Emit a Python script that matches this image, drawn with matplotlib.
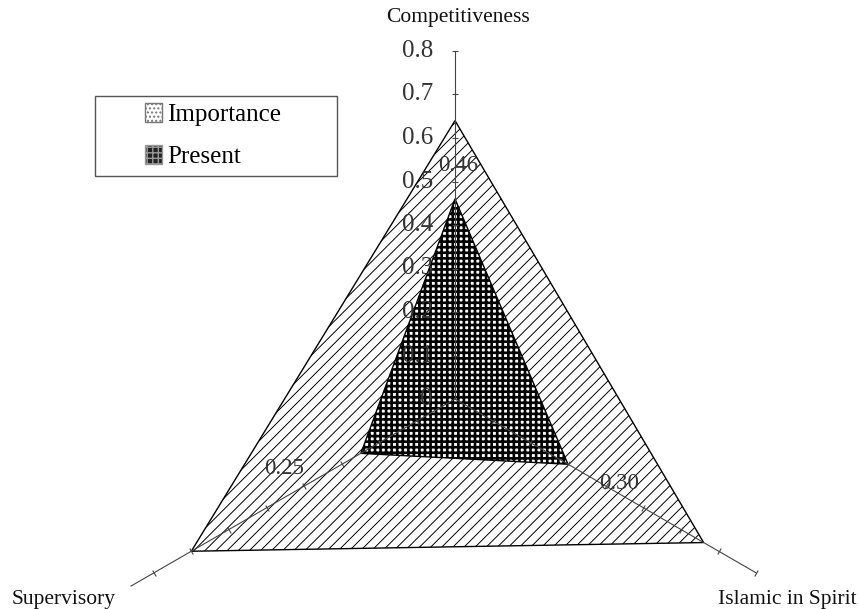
import numpy as np
import matplotlib.pyplot as plt
from matplotlib.patches import Patch, Rectangle

# Data
categories = ["Competitiveness", "Islamic in Spirit", "Supervisory"]
importance = [0.64, 0.66, 0.70]
present = [0.46, 0.30, 0.25]
spoke_len = [0.8, 0.8, 0.86]
tick_values = [0, 0.1, 0.2, 0.3, 0.4, 0.5, 0.6, 0.7, 0.8]

plt.rcParams["font.family"] = ["Liberation Serif", "DejaVu Serif"]

W, H = 858, 609
fig = plt.figure(figsize=(W / 100, H / 100), dpi=100)

# polar axes centred at (455, 399) px, radius 1.0 -> 435 px
cx, cy, R = 455, H - 399, 435
ax = fig.add_axes([(cx - R) / W, (cy - R) / H, 2 * R / W, 2 * R / H], projection="polar")
ax.set_theta_offset(np.pi / 2)
ax.set_theta_direction(-1)
ax.set_ylim(0, 1.0)
ax.set_axis_off()

theta = np.linspace(0, 2 * np.pi, len(categories), endpoint=False)
theta_c = np.append(theta, theta[0])

# filled series
with plt.rc_context({"hatch.linewidth": 0.7}):
    ax.fill(theta_c, importance + importance[:1], facecolor="white",
            edgecolor="black", hatch="///", linewidth=1.0, zorder=2)
with plt.rc_context({"hatch.linewidth": 1.9}):
    ax.fill(theta_c, present + present[:1], facecolor="white",
            edgecolor="black", hatch="+++", linewidth=1.0, zorder=3)

# spokes with small tick marks
for t, L in zip(theta, spoke_len):
    ax.plot([t, t], [0, L], color="#444444", lw=0.8, zorder=4, clip_on=False)
    screen_ang = 90 - np.degrees(t)
    tks = np.arange(0.1, L + 1e-6, 0.1)
    ax.plot(np.full(len(tks), t), tks, linestyle="none",
            marker=(2, 0, screen_ang), markersize=5, markeredgewidth=0.8,
            color="#444444", zorder=4, clip_on=False)

# radial tick labels along the top spoke
for v in tick_values:
    ax.annotate(f"{v:g}", xy=(0, v), xytext=(-16, 0), textcoords="offset points",
                ha="right", va="center", fontsize=18, color="#333333", zorder=5)

# category labels
cat_style = [((2, 24), "center"), ((22, -19), "center"), ((-27, -19), "right")]
for t, name, (off, ha) in zip(theta, categories, cat_style):
    ax.annotate(name, xy=(t, 0.8), xytext=off, textcoords="offset points",
                ha=ha, va="center", fontsize=15.5, color="#111111")

# data labels for Present
offsets = [(2, 24), (37, -14), (-55, -11)]
for t, v, off in zip(theta, present, offsets):
    ax.annotate(f"{v:.2f}", xy=(t, v), xytext=off, textcoords="offset points",
                ha="center", va="center", fontsize=16.5, color="#333333", zorder=6)

# legend
handles = [
    Patch(facecolor="white", edgecolor="#777777", hatch="....", label="Importance"),
    Patch(facecolor="#222222", edgecolor="#999999", hatch="+++", label="Present"),
]
fig.legend(handles=handles, loc="upper left", bbox_to_anchor=(145 / W, 1 - 103 / H),
           frameon=False, fontsize=18, borderpad=0, borderaxespad=0,
           handlelength=0.68, handleheight=0.8, handletextpad=0.2, labelspacing=0.75)
fig.add_artist(Rectangle((95 / W, (H - 176) / H), 242 / W, 80 / H,
                         transform=fig.transFigure, fill=False, edgecolor="#555555", lw=1.0))

fig.savefig("out.png", dpi=100)
